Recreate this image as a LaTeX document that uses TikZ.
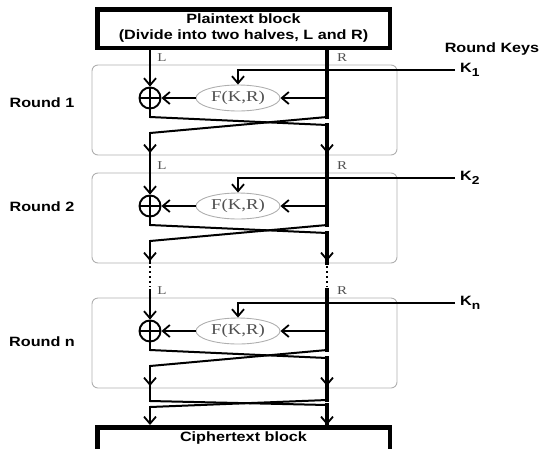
\documentclass[tikz,border=0pt]{standalone}
\usepackage{fontspec}
\setmainfont{Liberation Sans}[FakeStretch=1.2]
\newfontfamily\halffont{Liberation Serif}[FakeStretch=1.25]
\usetikzlibrary{arrows.meta,positioning,shapes.geometric}
\definecolor{framegray}{RGB}{175,175,175}
\definecolor{halfgray}{RGB}{80,80,80}
\tikzset{
  text block/.style={
    rectangle, draw, line width=4.5pt, align=center,
    minimum width=292.5pt, minimum height=38.5pt,
    font=\fontsize{13.5}{16}\selectfont\bfseries
  },
  round frame/.style={
    rectangle, rounded corners=6pt, draw=framegray, line width=0.9pt,
    minimum width=305pt, minimum height=90pt
  },
  round name/.style={font=\fontsize{13.5}{15}\selectfont\bfseries},
  key name/.style={font=\fontsize{13.5}{15}\selectfont\bfseries, inner sep=0pt},
  half name/.style={font=\halffont\fontsize{12}{12}\selectfont, text=halfgray, inner sep=0pt},
  xor gate/.style={
    circle, draw, line width=1.9pt, minimum size=21pt, inner sep=0pt,
    path picture={
      \draw[line width=1.9pt]
        (path picture bounding box.north) -- (path picture bounding box.south)
        (path picture bounding box.west) -- (path picture bounding box.east);}
  },
  round function/.style={
    ellipse, draw=framegray, line width=0.9pt,
    minimum width=84pt, minimum height=26pt, inner sep=0pt,
    font=\halffont\fontsize{15}{15}\selectfont, text=halfgray
  },
  left wire/.style={line width=2.8pt, line cap=rect},
  right wire/.style={line width=3.6pt, line cap=rect},
  thin wire/.style={line width=2pt},
  dot wire/.style={line width=1.6pt, dash pattern=on 2pt off 3pt},
  feistel arrow/.style={-{Straight Barb[length=7pt,width=12pt,line width=1.8pt]}}
}

\begin{document}
\begin{tikzpicture}[x=1pt, y=-1pt]
  \clip (0,0) rectangle (543,448);

  \node[text block] (plain) at (243.5,28.5) {Plaintext block\\(Divide into two halves, L and R)};
  \node[text block, anchor=north, text height=11pt, text depth=26pt] (cipher) at (243.5,425) {Ciphertext block};
  \node[key name] (keys) at (492,49) {Round Keys};

  \foreach \r/\top/\ly in {1/65/103, 2/173/207, n/298/342} {
    \node[round frame] (round\r) at (244.5,\top+45) {};
    \node[round name] (name\r) at (42,\ly) {Round \r};
    \node[xor gate] (xor\r) at (150,\top+33) {};
    \node[round function] (f\r) at (238,\top+33) {F(K,R)};
    \node[half name] (l\r) at (162,\top-7) {L};
    \node[half name] (r\r) at (342,\top-7) {R};
    \coordinate (key\r) at (238,\top+5);
    \coordinate (keyend\r) at (455,\top+5);
    \coordinate (split\r) at (327,\top+33);
    \coordinate (lcross\r) at (150,\top+52);
    \coordinate (rcross\r) at (327,\top+52);
    \coordinate (lout\r) at (150,\top+88);
    \coordinate (rout\r) at (327,\top+88);
    \node[key name, right=5pt of keyend\r] (k\r) {K\raisebox{-4pt}{\fontsize{11.5}{11.5}\selectfont\r}};
    % key and right half through F into the XOR
    \draw[thin wire, feistel arrow] (keyend\r) -- (key\r) -- (f\r.north);
    \draw[thin wire, feistel arrow] (split\r) -- (f\r.east);
    \draw[thin wire, feistel arrow] (f\r.west) -- (xor\r.east);
    % swap the halves
    \draw[left wire] (xor\r.south) -- (lcross\r);
    \draw[thin wire] (lcross\r) -- ++(177,8) coordinate (rdrop\r);
    \draw[right wire, feistel arrow] (rdrop\r) -- (rout\r);
    \draw[thin wire] (rcross\r) -- ++(-177,16) coordinate (ldrop\r);
    \draw[left wire, feistel arrow] (ldrop\r) -- (lout\r);
  }

  % into round 1
  \draw[left wire, feistel arrow] (plain.south -| xor1) -- (xor1.north);
  \draw[right wire] (plain.south -| split1) -- (rcross1);
  % round 1 to round 2
  \draw[left wire, feistel arrow] (lout1) -- (xor2.north);
  \draw[right wire] (rout1) -- (rcross2);
  % round 2 to round n, broken
  \draw[left wire] (lout2) -- ++(0,2);
  \draw[dot wire] ([yshift=-5pt]lout2) -- ([yshift=-26pt]lout2);
  \draw[left wire, feistel arrow] ([yshift=-29pt]lout2) -- (xorn.north);
  \draw[right wire] (rout2) -- ++(0,2);
  \draw[dot wire] ([yshift=-5pt]rout2) -- ([yshift=-26pt]rout2);
  \draw[right wire] ([yshift=-29pt]rout2) -- (rcrossn);
  % last swap undone into the ciphertext
  \draw[left wire] (loutn) -- ++(0,15) coordinate (lfin);
  \draw[right wire] (routn) -- ++(0,14) coordinate (rfin);
  \draw[thin wire] (lfin) -- ++(177,4) coordinate (rlast);
  \draw[right wire, feistel arrow] (rlast) -- (rlast |- cipher.north);
  \draw[thin wire] (rfin) -- ++(-177,7) coordinate (llast);
  \draw[left wire, feistel arrow] (llast) -- (llast |- cipher.north);
\end{tikzpicture}
\end{document}
